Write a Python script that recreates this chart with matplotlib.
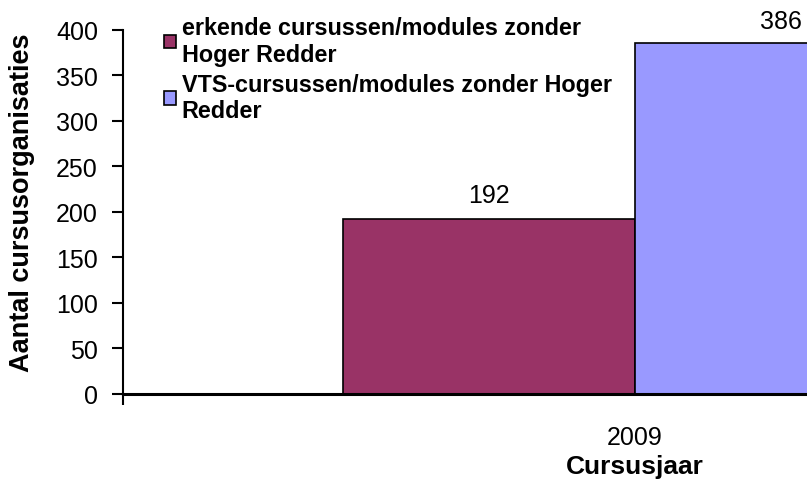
#!/usr/bin/python

# import modules
import matplotlib.pyplot as plt
import numpy

# data
years = ['2009']
erkend = [192]
vts = [386]
labels = ['erkende cursussen/modules zonder\nHoger Redder',
          'VTS-cursussen/modules zonder Hoger\nRedder']
colors = ['#993366', '#9999FF']

plt.rcParams['font.family'] = ['Liberation Sans', 'DejaVu Sans']

fig = plt.figure(figsize=(8.07, 4.81), dpi=100)
ax = fig.add_axes([0.1524, 0.1788, 0.8476, 0.7568])

# plot bars
x = numpy.arange(len(years))
w = 0.57
b1 = ax.bar(x - w / 2, erkend, w, color=colors[0], edgecolor='black', linewidth=1.2, label=labels[0])
b2 = ax.bar(x + w / 2, vts, w, color=colors[1], edgecolor='black', linewidth=1.2, label=labels[1])
ax.bar_label(b1, fontsize=18, padding=9)
ax.bar_label(b2, fontsize=18, padding=7)

# axes
ax.set_xlim(-1, 0.336)
ax.set_ylim(0, 400)
ax.set_yticks(range(0, 401, 50))
ax.tick_params(axis='y', labelsize=18, length=8, width=1.5, pad=10)
ax.set_xticks(x)
ax.set_xticklabels(years)
ax.tick_params(axis='x', labelsize=18, length=0, pad=22)
ax.set_xticks([-1], minor=True)
ax.tick_params(axis='x', which='minor', length=8, width=1.5)

for s in ['top', 'right']:
    ax.spines[s].set_visible(False)
ax.spines['left'].set_linewidth(1.5)
ax.spines['bottom'].set_linewidth(2.2)

# add labels
ax.set_ylabel('Aantal cursusorganisaties', fontsize=19.5, fontweight='bold', va='center')
ax.yaxis.set_label_coords(-0.148, 0.529)
ax.set_xlabel('Cursusjaar', fontsize=19, fontweight='bold', va='center')
ax.xaxis.set_label_coords(0.7485, -0.198)

# add legend
leg = ax.legend(loc='upper left', bbox_to_anchor=(164 / 807, 1 - 17 / 481), bbox_transform=fig.transFigure,
                frameon=False, prop={'size': 16.8, 'weight': 'bold'}, handlelength=0.5, handleheight=0.5,
                handletextpad=0.25, labelspacing=0.3, borderpad=0, borderaxespad=0)

fig.savefig('out.png', dpi=100)
